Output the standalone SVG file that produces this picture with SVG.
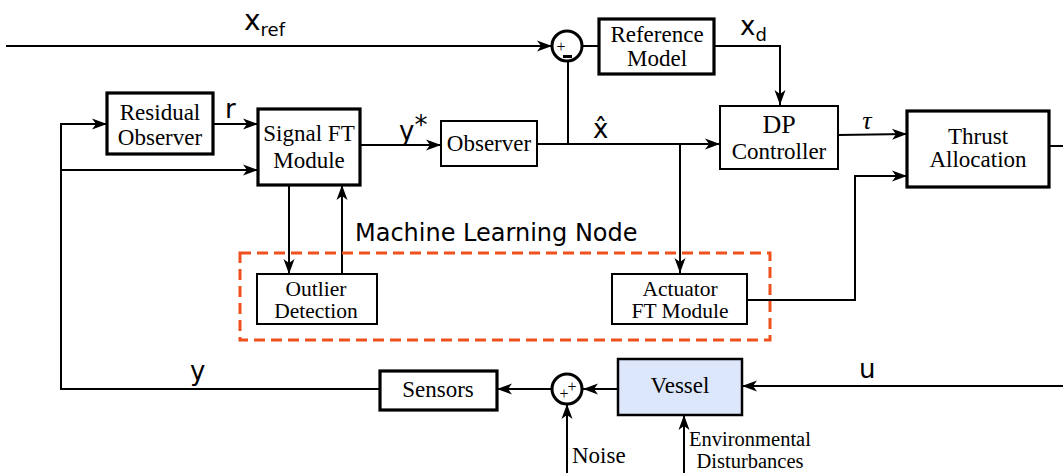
<svg xmlns="http://www.w3.org/2000/svg" width="1063" height="473" viewBox="0 0 1063 473">
  <defs>
    <style>
      .box { fill: #ffffff; stroke: #000; stroke-width: 2; }
      .thick { stroke-width: 3.2; }
      .lbl { font-family: "Liberation Serif", "Times New Roman", serif; font-size: 23px; fill: #000; text-anchor: middle; }
      .small { font-size: 21.5px; }
      .sig { font-family: "DejaVu Sans", Verdana, sans-serif; fill: #000; }
      .wire { fill: none; stroke: #000; stroke-width: 2; }
      .arr { marker-end: url(#head); }
      .sum { fill: #fff; stroke: #000; stroke-width: 3; }
      .tiny { font-size: 16px; }
    </style>
    <marker id="head" markerUnits="userSpaceOnUse" markerWidth="16" markerHeight="12" viewBox="0 0 16 12" refX="15" refY="6" orient="auto">
      <path d="M0,0.5 L15,6 L0,11.5 L4,6 Z" fill="#000"/>
    </marker>
  </defs>

  <rect width="1063" height="473" fill="#ffffff"/>

  <!-- connectors -->
  <g id="connectors">
    <line class="wire arr" x1="6" y1="46" x2="552" y2="46"/>
    <line class="wire" x1="582" y1="46" x2="599" y2="46"/>
    <polyline class="wire arr" points="714,46 780,46 780,105"/>
    <line class="wire arr" x1="838" y1="135" x2="907" y2="134"/>
    <line class="wire" x1="1049" y1="146" x2="1063" y2="146"/>
    <line class="wire arr" x1="213" y1="124" x2="258" y2="124"/>
    <line class="wire arr" x1="360" y1="145" x2="441" y2="145"/>
    <line class="wire arr" x1="537" y1="144" x2="720" y2="144"/>
    <line class="wire" x1="568" y1="144" x2="568" y2="61"/>
    <line class="wire arr" x1="680" y1="144" x2="680" y2="273"/>
    <polyline class="wire arr" points="380,389 61,389 61,124 107,124"/>
    <line class="wire arr" x1="61" y1="170" x2="258" y2="170"/>
    <line class="wire arr" x1="289" y1="185" x2="289" y2="274"/>
    <line class="wire arr" x1="342" y1="274" x2="342" y2="185"/>
    <polyline class="wire arr" points="747,300 855,300 855,176 907,176"/>
    <line class="wire arr" x1="552" y1="389" x2="497" y2="389"/>
    <line class="wire arr" x1="618" y1="389" x2="583" y2="389"/>
    <line class="wire arr" x1="1063" y1="386" x2="742" y2="386"/>
    <line class="wire arr" x1="567" y1="473" x2="567" y2="404"/>
    <line class="wire arr" x1="684" y1="473" x2="684" y2="415"/>
  </g>

  <!-- machine learning node boundary -->
  <g id="ml-node">
    <rect x="240" y="253" width="530" height="87" fill="none" stroke="#f0501e" stroke-width="3" stroke-dasharray="11,6"/>
    <text class="sig" x="355" y="241" font-size="24">Machine Learning Node</text>
  </g>

  <!-- summing junctions -->
  <g id="sum-ref">
    <circle class="sum" cx="567" cy="46" r="15"/>
    <text class="lbl tiny" x="561" y="52">+</text>
    <rect x="563" y="55" width="9" height="3" fill="#000"/>
  </g>
  <g id="sum-meas">
    <circle class="sum" cx="567" cy="389" r="15"/>
    <text class="lbl tiny" x="564" y="399">+</text>
    <text class="lbl tiny" x="572" y="392">+</text>
  </g>

  <!-- blocks -->
  <g id="reference-model">
    <rect class="box thick" x="599" y="19" width="115" height="55"/>
    <text class="lbl" x="657" y="42">Reference</text>
    <text class="lbl" x="657" y="66">Model</text>
  </g>
  <g id="residual-observer">
    <rect class="box thick" x="107" y="93" width="106" height="61"/>
    <text class="lbl" x="160" y="120">Residual</text>
    <text class="lbl" x="160" y="145">Observer</text>
  </g>
  <g id="signal-ft">
    <rect class="box thick" x="258" y="109" width="102" height="76"/>
    <text class="lbl" x="309" y="141">Signal FT</text>
    <text class="lbl" x="309" y="168">Module</text>
  </g>
  <g id="observer">
    <rect class="box" x="441" y="121" width="96" height="45"/>
    <text class="lbl" x="489" y="151">Observer</text>
  </g>
  <g id="dp-controller">
    <rect class="box" x="720" y="106" width="118" height="63"/>
    <text class="lbl" x="779" y="133" style="font-size:26px">DP</text>
    <text class="lbl" x="779" y="159">Controller</text>
  </g>
  <g id="thrust-allocation">
    <rect class="box thick" x="907" y="111" width="142" height="76"/>
    <text class="lbl" x="978" y="144">Thrust</text>
    <text class="lbl" x="978" y="167">Allocation</text>
  </g>
  <g id="outlier-detection">
    <rect class="box" x="257" y="274" width="120" height="50"/>
    <text class="lbl small" x="316" y="296">Outlier</text>
    <text class="lbl small" x="316" y="318">Detection</text>
  </g>
  <g id="actuator-ft">
    <rect class="box" x="612" y="274" width="135" height="50"/>
    <text class="lbl small" x="680" y="296">Actuator</text>
    <text class="lbl small" x="680" y="318">FT Module</text>
  </g>
  <g id="sensors">
    <rect class="box thick" x="380" y="371" width="117" height="39"/>
    <text class="lbl" x="438" y="397">Sensors</text>
  </g>
  <g id="vessel">
    <rect class="box" x="618" y="359" width="124" height="56" style="fill:#dde7fb;stroke-width:2.5"/>
    <text class="lbl" x="680" y="393">Vessel</text>
  </g>

  <!-- signal labels -->
  <g id="signal-labels">
    <text class="sig" x="244" y="30" font-size="28">x<tspan font-size="18" dy="6">ref</tspan></text>
    <text class="sig" x="740" y="35" font-size="26">x<tspan font-size="18" dy="6">d</tspan></text>
    <text class="sig" x="225" y="118" font-size="26">r</text>
    <text class="sig" x="399" y="140" font-size="26">y<tspan dy="-6">*</tspan></text>
    <text class="sig" x="593" y="138" font-size="26">x̂</text>
    <text class="lbl" x="867" y="129" style="font-size:26px;font-style:italic">τ</text>
    <text class="sig" x="190" y="380" font-size="26">y</text>
    <text class="sig" x="859" y="378" font-size="26">u</text>
    <text class="lbl" x="572" y="463" style="font-size:23px;text-anchor:start">Noise</text>
    <text class="lbl" x="750" y="446" style="font-size:20.5px">Environmental</text>
    <text class="lbl" x="750" y="468" style="font-size:20.5px">Disturbances</text>
  </g>
</svg>
